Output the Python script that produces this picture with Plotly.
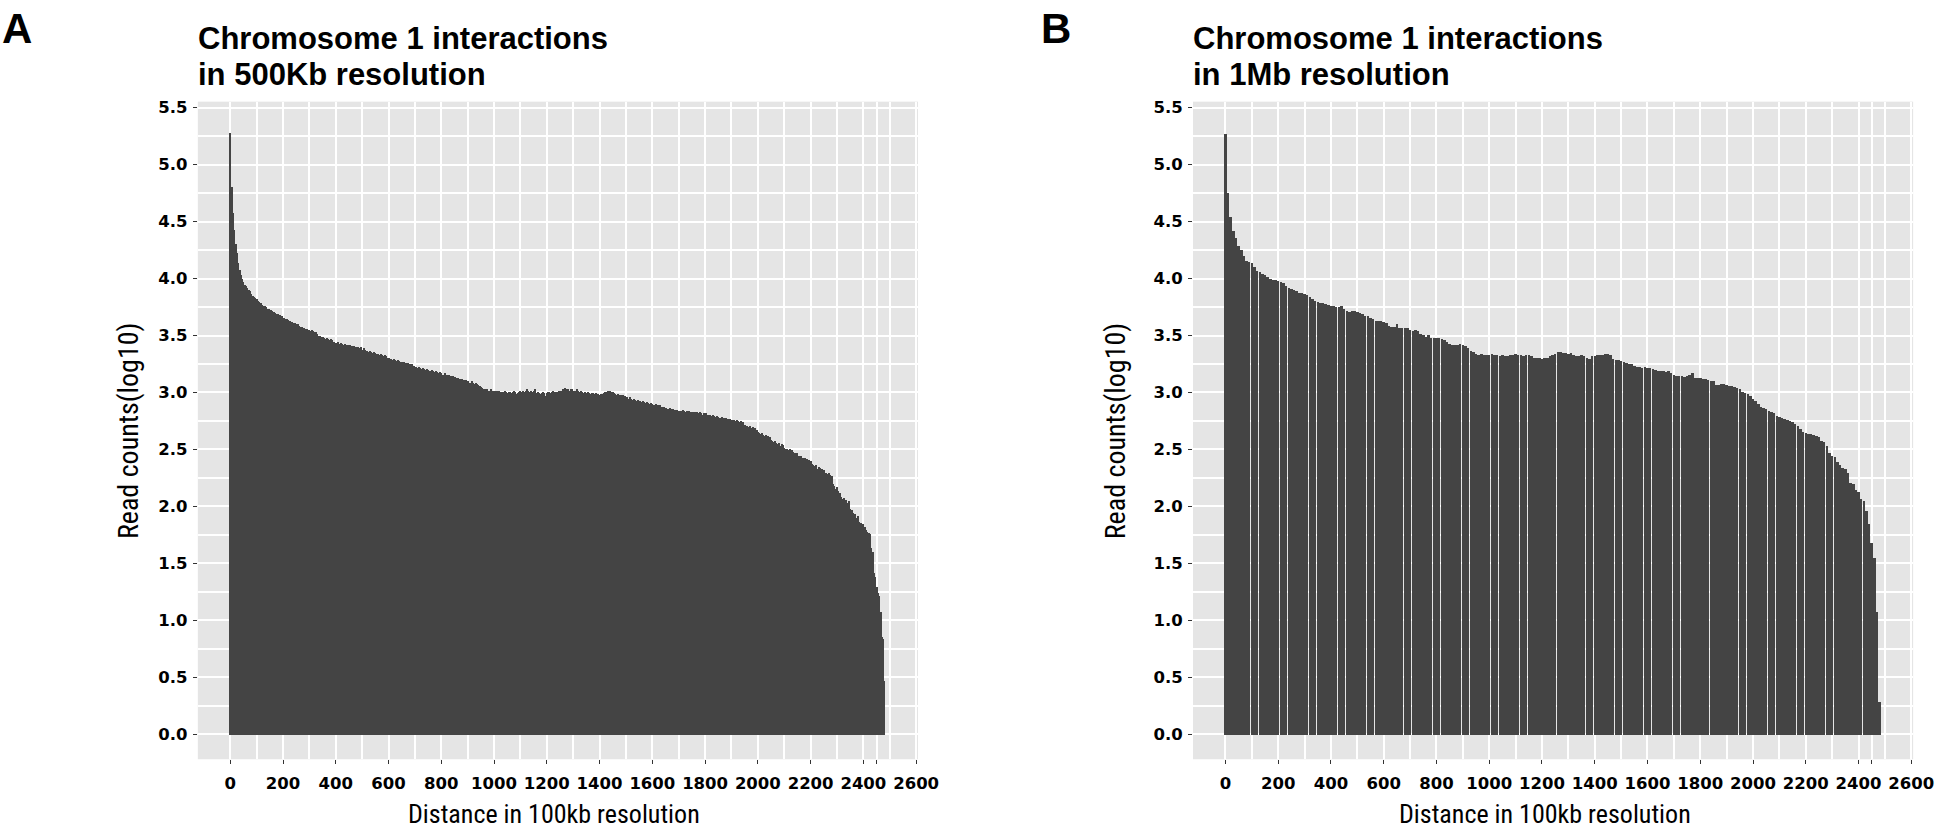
import plotly.graph_objects as go

# ---------------- data ----------------
panel_labels = ["A", "B"]
title_line1 = ["Chromosome 1 interactions", "Chromosome 1 interactions"]
title_line2 = ["in 500Kb resolution", "in 1Mb resolution"]
x_title = "Distance in 100kb resolution"
y_title = "Read counts(log10)"

bin_500kb = 5      # bin size in 100kb units
bin_1mb = 10

# log10 read counts per distance bin, 500Kb resolution (panel A)
counts_500kb = [
    5.28, 4.81, 4.58, 4.43, 4.31, 4.23, 4.14, 4.08, 4.03, 4.00,
    3.97, 3.95, 3.94, 3.92, 3.90, 3.89, 3.87, 3.85, 3.84, 3.83,
    3.82, 3.81, 3.80, 3.79, 3.77, 3.76, 3.76, 3.75, 3.74, 3.74,
    3.73, 3.73, 3.72, 3.71, 3.70, 3.69, 3.69, 3.68, 3.68, 3.67,
    3.66, 3.66, 3.65, 3.65, 3.64, 3.63, 3.62, 3.62, 3.61, 3.61,
    3.60, 3.60, 3.59, 3.58, 3.58, 3.57, 3.57, 3.56, 3.56, 3.55,
    3.55, 3.54, 3.55, 3.54, 3.53, 3.53, 3.52, 3.50, 3.50, 3.49,
    3.49, 3.48, 3.47, 3.48, 3.47, 3.46, 3.47, 3.46, 3.45, 3.45,
    3.44, 3.44, 3.45, 3.43, 3.44, 3.43, 3.42, 3.43, 3.42, 3.42,
    3.41, 3.42, 3.41, 3.40, 3.41, 3.40, 3.40, 3.40, 3.39, 3.40,
    3.38, 3.39, 3.38, 3.37, 3.37, 3.36, 3.37, 3.36, 3.35, 3.36,
    3.35, 3.34, 3.34, 3.33, 3.34, 3.33, 3.32, 3.33, 3.32, 3.31,
    3.31, 3.30, 3.30, 3.29, 3.30, 3.29, 3.28, 3.29, 3.28, 3.27,
    3.27, 3.26, 3.27, 3.26, 3.25, 3.26, 3.25, 3.24, 3.25, 3.24,
    3.23, 3.23, 3.22, 3.23, 3.22, 3.21, 3.22, 3.21, 3.20, 3.21,
    3.20, 3.19, 3.19, 3.20, 3.19, 3.18, 3.19, 3.18, 3.17, 3.18,
    3.17, 3.16, 3.16, 3.17, 3.16, 3.15, 3.16, 3.15, 3.14, 3.15,
    3.14, 3.13, 3.12, 3.13, 3.12, 3.11, 3.12, 3.11, 3.10, 3.11,
    3.10, 3.09, 3.09, 3.10, 3.09, 3.08, 3.09, 3.08, 3.07, 3.06,
    3.05, 3.04, 3.03, 3.03, 3.02, 3.03, 3.02, 3.02, 3.03, 3.02,
    3.01, 3.02, 3.02, 3.01, 3.02, 3.01, 3.00, 3.01, 3.02, 3.01,
    3.00, 3.01, 3.01, 3.00, 3.01, 3.02, 3.01, 2.99, 3.00, 3.01,
    3.02, 3.01, 3.02, 3.01, 3.02, 3.03, 3.02, 3.01, 3.02, 3.01,
    3.02, 3.03, 3.00, 3.01, 3.00, 2.99, 3.00, 3.01, 3.00, 2.97,
    3.00, 3.01, 3.01, 3.00, 3.01, 3.02, 3.01, 3.00, 3.01, 3.02,
    3.01, 3.02, 3.03, 3.02, 3.04, 3.03, 3.03, 3.02, 3.03, 3.03,
    3.02, 3.02, 3.02, 3.03, 3.02, 3.01, 3.02, 3.01, 3.00, 3.01,
    3.00, 3.01, 3.00, 2.99, 3.00, 3.00, 2.99, 3.00, 2.99, 2.99,
    2.98, 2.99, 2.99, 3.00, 3.01, 3.01, 3.02, 3.01, 3.02, 3.01,
    3.01, 3.00, 2.99, 2.98, 2.99, 2.98, 2.98, 2.97, 2.98, 2.97,
    2.96, 2.96, 2.95, 2.96, 2.95, 2.94, 2.95, 2.94, 2.93, 2.94,
    2.93, 2.93, 2.92, 2.93, 2.92, 2.91, 2.92, 2.91, 2.90, 2.91,
    2.90, 2.89, 2.89, 2.90, 2.89, 2.88, 2.89, 2.88, 2.87, 2.88,
    2.87, 2.86, 2.86, 2.87, 2.86, 2.85, 2.86, 2.85, 2.84, 2.85,
    2.84, 2.84, 2.84, 2.85, 2.84, 2.83, 2.84, 2.83, 2.84, 2.83,
    2.82, 2.83, 2.83, 2.82, 2.83, 2.82, 2.83, 2.82, 2.81, 2.82,
    2.81, 2.82, 2.81, 2.80, 2.81, 2.80, 2.81, 2.80, 2.79, 2.80,
    2.79, 2.78, 2.78, 2.79, 2.78, 2.77, 2.78, 2.77, 2.76, 2.77,
    2.76, 2.76, 2.76, 2.75, 2.76, 2.75, 2.74, 2.75, 2.73, 2.74,
    2.72, 2.71, 2.71, 2.70, 2.71, 2.69, 2.70, 2.68, 2.69, 2.67,
    2.66, 2.65, 2.64, 2.65, 2.63, 2.62, 2.63, 2.60, 2.62, 2.61,
    2.59, 2.58, 2.57, 2.58, 2.56, 2.55, 2.56, 2.53, 2.55, 2.54,
    2.52, 2.51, 2.51, 2.50, 2.51, 2.49, 2.50, 2.48, 2.47, 2.46,
    2.47, 2.45, 2.44, 2.45, 2.43, 2.40, 2.43, 2.42, 2.38, 2.41,
    2.40, 2.38, 2.37, 2.36, 2.37, 2.33, 2.35, 2.34, 2.31, 2.33,
    2.32, 2.30, 2.30, 2.29, 2.30, 2.28, 2.27, 2.20, 2.18, 2.16,
    2.17, 2.14, 2.12, 2.09, 2.07, 2.08, 2.04, 2.06, 2.03, 2.05,
    1.98, 1.97, 1.95, 1.93, 1.94, 1.90, 1.92, 1.87, 1.86, 1.84,
    1.85, 1.82, 1.80, 1.78, 1.77, 1.76, 1.64, 1.60, 1.42, 1.38,
    1.30, 1.24, 1.22, 1.08, 0.86, 0.84, 0.47,
]

# log10 read counts per distance bin, 1Mb resolution (panel B)
counts_1mb = [
    5.27, 4.75, 4.54, 4.42, 4.36, 4.29, 4.25, 4.20, 4.16, 4.15,
    4.14, 4.10, 4.07, 4.06, 4.04, 4.03, 4.02, 4.00, 3.99, 3.99,
    3.98, 3.97, 3.96, 3.94, 3.92, 3.91, 3.90, 3.89, 3.88, 3.88,
    3.87, 3.86, 3.84, 3.82, 3.81, 3.80, 3.79, 3.79, 3.78, 3.77,
    3.76, 3.76, 3.75, 3.75, 3.76, 3.74, 3.72, 3.71, 3.72, 3.72,
    3.71, 3.70, 3.69, 3.67, 3.67, 3.66, 3.65, 3.63, 3.63, 3.63,
    3.62, 3.61, 3.59, 3.58, 3.58, 3.60, 3.57, 3.57, 3.57, 3.57,
    3.55, 3.54, 3.55, 3.54, 3.52, 3.51, 3.49, 3.51, 3.48, 3.48,
    3.48, 3.48, 3.47, 3.46, 3.45, 3.43, 3.42, 3.42, 3.42, 3.43,
    3.42, 3.41, 3.39, 3.37, 3.36, 3.34, 3.33, 3.34, 3.33, 3.33,
    3.33, 3.34, 3.33, 3.33, 3.32, 3.33, 3.32, 3.32, 3.33, 3.33,
    3.34, 3.33, 3.33, 3.32, 3.33, 3.33, 3.32, 3.31, 3.31, 3.31,
    3.30, 3.31, 3.31, 3.32, 3.33, 3.34, 3.36, 3.36, 3.35, 3.35,
    3.34, 3.35, 3.33, 3.32, 3.32, 3.33, 3.32, 3.31, 3.30, 3.32,
    3.32, 3.33, 3.33, 3.33, 3.34, 3.34, 3.33, 3.30, 3.29, 3.29,
    3.28, 3.27, 3.26, 3.25, 3.25, 3.24, 3.23, 3.23, 3.22, 3.23,
    3.22, 3.22, 3.21, 3.20, 3.19, 3.19, 3.19, 3.18, 3.19, 3.17,
    3.16, 3.15, 3.15, 3.15, 3.14, 3.15, 3.16, 3.17, 3.13, 3.13,
    3.13, 3.12, 3.12, 3.11, 3.10, 3.10, 3.07, 3.07, 3.08, 3.08,
    3.07, 3.06, 3.06, 3.05, 3.04, 3.03, 3.01, 3.00, 2.99, 2.97,
    2.95, 2.93, 2.90, 2.88, 2.87, 2.86, 2.84, 2.83, 2.82, 2.80,
    2.79, 2.78, 2.77, 2.76, 2.75, 2.74, 2.73, 2.71, 2.68, 2.66,
    2.65, 2.64, 2.64, 2.63, 2.62, 2.61, 2.58, 2.57, 2.53, 2.47,
    2.45, 2.44, 2.39, 2.37, 2.34, 2.33, 2.30, 2.21, 2.20, 2.15,
    2.13, 2.07, 2.05, 1.96, 1.85, 1.68, 1.55, 1.08, 0.29,
]

x_tickvals = [0, 200, 400, 600, 800, 1000, 1200, 1400, 1600, 1800, 2000,
              2200, 2400, 2450, 2600]
x_ticktext = ["0", "200", "400", "600", "800", "1000", "1200", "1400", "1600",
              "1800", "2000", "2200", "2400", "", "2600"]
x_minor = [100, 300, 500, 700, 900, 1100, 1300, 1500, 1700, 1900, 2100, 2300, 2500]
y_tickvals = [0.0, 0.5, 1.0, 1.5, 2.0, 2.5, 3.0, 3.5, 4.0, 4.5, 5.0, 5.5]
y_ticktext = ["0.0", "0.5", "1.0", "1.5", "2.0", "2.5", "3.0", "3.5", "4.0",
              "4.5", "5.0", "5.5"]
y_minor = [0.25, 0.75, 1.25, 1.75, 2.25, 2.75, 3.25, 3.75, 4.25, 4.75, 5.25]

# ---------------- layout constants ----------------
W, H = 1946, 828
BAR = "#444444"
PANEL = "#E5E5E5"
BOLD = "Liberation Sans, Arial, sans-serif"
COND = "Roboto Condensed, Liberation Sans Narrow, Roboto, sans-serif"
TICKFONT = dict(family="DejaVu Sans", size=16.5, color="#000000", weight="bold")

def px_x(p):
    return p / W

def px_y(p):
    return 1 - p / H

panels = [
    dict(x0=200, x1=928, counts=counts_500kb, step=bin_500kb, width=5,
         letter_x=0, xtitle_x=560, ytitle_x=130),
    dict(x0=1206, x1=1934, counts=counts_1mb, step=bin_1mb, width=9.4,
         letter_x=1050, xtitle_x=1562, ytitle_x=1128),
]
y_top, y_bot = 99, 759

fig = go.Figure()
annotations = []
for k, p in enumerate(panels):
    xa = "x" if k == 0 else "x2"
    ya = "y" if k == 0 else "y2"
    dist = [i * p["step"] for i in range(len(p["counts"]))]
    fig.add_trace(go.Bar(x=dist, y=p["counts"], width=p["width"],
                         marker=dict(color=BAR, line=dict(width=0)),
                         xaxis=xa, yaxis=ya, showlegend=False,
                         hoverinfo="skip"))
    axis_common = dict(showgrid=True, gridcolor="white", gridwidth=2,
                       zeroline=False, showline=False, ticks="outside",
                       ticklen=4, tickwidth=1.2, tickcolor="#333333",
                       tickfont=TICKFONT)
    xaxis = dict(domain=[px_x(p["x0"]), px_x(p["x1"])], range=[-123, 2607],
                 tickmode="array", tickvals=x_tickvals, ticktext=x_ticktext,
                 ticklabelstandoff=5,
                 minor=dict(tickvals=x_minor, showgrid=True, gridcolor="white",
                            gridwidth=1.5, ticks=""),
                 anchor=ya, **axis_common)
    yaxis = dict(domain=[px_y(y_bot), px_y(y_top)], range=[-0.218, 5.552],
                 tickmode="array", tickvals=y_tickvals, ticktext=y_ticktext,
                 ticklabelstandoff=2,
                 minor=dict(tickvals=y_minor, showgrid=True, gridcolor="white",
                            gridwidth=1.5, ticks=""),
                 anchor=xa, **axis_common)
    if k == 0:
        fig.update_layout(xaxis=xaxis, yaxis=yaxis)
    else:
        fig.update_layout(xaxis2=xaxis, yaxis2=yaxis)

    # panel letter
    annotations.append(dict(text="<b>%s</b>" % panel_labels[k], xref="paper", yref="paper",
                            x=px_x(p["letter_x"]), y=1.0,
                            xanchor="left", yanchor="top", showarrow=False,
                            font=dict(family=BOLD, size=42, color="black")))
    # title (two lines)
    for line, center in ((title_line1[k], 36), (title_line2[k], 72)):
        annotations.append(dict(text="<b>%s</b>" % line, xref="paper", yref="paper",
                                x=px_x(p["x0"] - 2), y=px_y(center),
                                xanchor="left", yanchor="middle", align="left",
                                showarrow=False,
                                font=dict(family=BOLD, size=31, color="black")))
    # x axis title
    annotations.append(dict(text=x_title, xref="paper", yref="paper",
                            x=px_x(p["xtitle_x"]), y=px_y(814), xanchor="center",
                            yanchor="middle", showarrow=False,
                            font=dict(family=COND, size=26, color="black")))
    # y axis title
    annotations.append(dict(text=y_title, xref="paper", yref="paper",
                            x=px_x(p["ytitle_x"]), y=px_y((y_top + y_bot) / 2),
                            xanchor="center", yanchor="middle", textangle=-90,
                            showarrow=False, font=dict(family=COND, size=28, color="black")))

fig.update_layout(width=W, height=H, margin=dict(l=0, r=0, t=0, b=0),
                  paper_bgcolor="white", plot_bgcolor=PANEL,
                  annotations=annotations, bargap=0)
fig.write_html("out.html", config={"displayModeBar": False},
               post_script="document.body.style.margin='0px';"
                           "document.body.style.overflow='hidden';")
